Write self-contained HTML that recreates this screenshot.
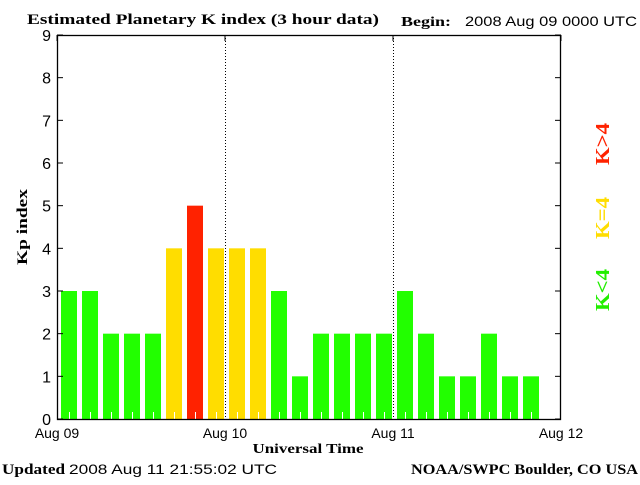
<!DOCTYPE html>
<html><head><meta charset="utf-8"><style>
body{margin:0;background:#fff}
svg text{font-family:"Liberation Sans",sans-serif}
.s{font-family:"Liberation Serif",serif!important;font-weight:bold}
</style></head><body>
<svg id="c" width="640" height="480" xmlns="http://www.w3.org/2000/svg">
<text class="s" x="27" y="24" font-size="15" textLength="352" lengthAdjust="spacingAndGlyphs">Estimated Planetary K index (3 hour data)</text>
<text class="s" x="401" y="26" font-size="14" textLength="50" lengthAdjust="spacingAndGlyphs">Begin:</text>
<text x="465" y="26" font-size="14" textLength="172" lengthAdjust="spacingAndGlyphs">2008 Aug 09 0000 UTC</text>
<g id="plot"></g>
<text class="s" x="308" y="453" font-size="14" text-anchor="middle" textLength="111" lengthAdjust="spacingAndGlyphs">Universal Time</text>
<text class="s" x="27" y="227" font-size="15" text-anchor="middle" textLength="76" lengthAdjust="spacingAndGlyphs" transform="rotate(-90 27 227)">Kp index</text>
<text class="s" x="609" y="290" font-size="20" fill="#22ee00" transform="rotate(-90 609 290)" text-anchor="middle" textLength="42" lengthAdjust="spacingAndGlyphs">K&lt;4</text>
<text class="s" x="609" y="218" font-size="20" fill="#ffdd00" transform="rotate(-90 609 218)" text-anchor="middle" textLength="42" lengthAdjust="spacingAndGlyphs">K=4</text>
<text class="s" x="609" y="144" font-size="20" fill="#ff2200" transform="rotate(-90 609 144)" text-anchor="middle" textLength="42" lengthAdjust="spacingAndGlyphs">K&gt;4</text>
<text class="s" x="2" y="474" font-size="15" textLength="63" lengthAdjust="spacingAndGlyphs">Updated</text>
<text x="69" y="474" font-size="14" textLength="208" lengthAdjust="spacingAndGlyphs">2008 Aug 11 21:55:02 UTC</text>
<text class="s" x="411" y="474" font-size="15" textLength="227" lengthAdjust="spacingAndGlyphs">NOAA/SWPC Boulder, CO USA</text>
</svg>
<script>
const kpValues=[3,3,2,2,2,4,5,4,4,4,3,1,2,2,2,2,3,2,1,1,2,1,1];
const yTicks=[0,1,2,3,4,5,6,7,8,9];
const dayLabels=["Aug 09","Aug 10","Aug 11","Aug 12"];
const NS="http://www.w3.org/2000/svg";
const X0=57,X1=561,Y0=419,Y1=35;
const slot=(X1-X0)/24;
function xs(i){return X0+i*slot;}
function ys(v){return Y0-(v/9)*(Y0-Y1);}
const g=document.getElementById('plot');
function mk(t,a){const e=document.createElementNS(NS,t);for(const k in a)e.setAttribute(k,a[k]);g.appendChild(e);return e;}
kpValues.forEach((v,i)=>{
 const col=v>4?'#ff2200':(v==4?'#ffdd00':'#22ff00');
 const r=mk('rect',{x:xs(i)+4,y:ys(v),width:16,height:Y0-ys(v),fill:col});
 
 
 const t=mk('line',{x1:xs(i)+12.5,x2:xs(i)+12.5,y1:Y0-7,y2:Y0,stroke:'#fff','stroke-width':1});
 
 
});
[1,2].forEach(d=>{
 const l=mk('line',{x1:X0+d*8*slot+0.5,x2:X0+d*8*slot+0.5,y1:Y1,y2:Y0,stroke:'#000','stroke-dasharray':'1,2'});
 
 
});
const fr=mk('rect',{x:X0+0.5,y:Y1+0.5,width:X1-X0-1,height:Y0-Y1,fill:'none',stroke:'#000','stroke-width':1.3});


yTicks.forEach(v=>{
 const y=ys(v);
 mk('line',{x1:X0,x2:X0+6,y1:y,y2:y,stroke:'#000'});
 mk('line',{x1:X1-6,x2:X1,y1:y,y2:y,stroke:'#000'});
 const t=mk('text',{x:X0-6,y:y+6,'font-size':16,'text-anchor':'end'});
 t.textContent=v;
 
 
});
dayLabels.forEach((d,i)=>{
 const x=X0+i*8*slot;
 mk('line',{x1:x,x2:x,y1:Y1,y2:Y1+6,stroke:'#000'});
 const t=mk('text',{x:x,y:438,'font-size':14,'text-anchor':'middle'});
 t.textContent=d;
 
 
});
</script>
</body></html>
